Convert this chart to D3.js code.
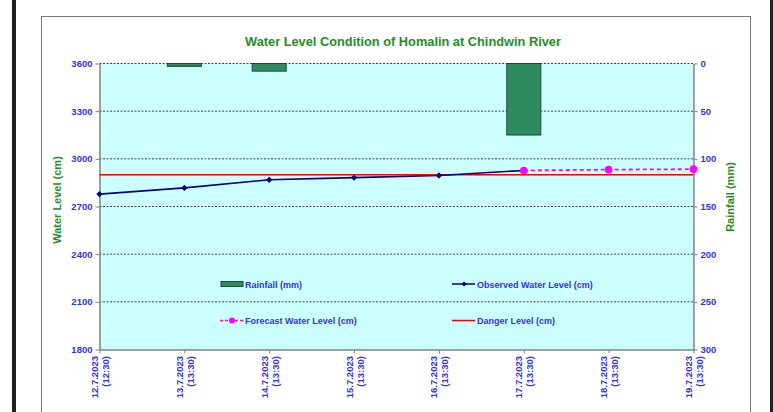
<!DOCTYPE html>
<html>
<head>
<meta charset="utf-8">
<script src="https://cdn.jsdelivr.net/npm/d3@7"></script>
<style>
  body { margin: 0; background: #fff; }
  text { font-family: "Liberation Sans", Arial, sans-serif; }
</style>
</head>
<body>
<svg id="chart1" width="773" height="412"></svg>
<script>
// dates shown on the x axis (two lines each)
const dates = ['12.7.2023', '13.7.2023', '14.7.2023', '15.7.2023', '16.7.2023', '17.7.2023', '18.7.2023', '19.7.2023']
const times = ['(12:30)', '(13:30)', '(13:30)', '(13:30)', '(13:30)', '(13:30)', '(13:30)', '(13:30)']

// rainfall in mm, right axis
const rainfall = [0, 3, 8, 0, 0, 75, 0, 0]
// observed water level (cm)
const observed = [2778, 2817, 2868, 2882, 2895, 2927]
// forecast water level (cm), starting from 17.7
const forecastDates = ['17.7.2023', '18.7.2023', '19.7.2023']
const forecast = [2927, 2932, 2935]
const dangerLevel = 2900

const leftTicks = [1800, 2100, 2400, 2700, 3000, 3300, 3600]
const rightTicks = [0, 50, 100, 150, 200, 250, 300]

const blue = '#3333dd', green = '#1f8f1f'

const svg = d3.select('#chart1')

// outer page borders
svg.append('rect').attr('x', 12).attr('y', 0).attr('width', 4).attr('height', 412).attr('fill', '#222')
svg.append('rect').attr('x', 770).attr('y', 0).attr('width', 3).attr('height', 412).attr('fill', '#222')
svg.append('rect').attr('x', 41.5).attr('y', 16.5).attr('width', 709).attr('height', 420)
    .attr('fill', '#fff').attr('stroke', '#777')

const x = d3.scalePoint().domain(dates).range([99.5, 693.5])
const yL = d3.scaleLinear().domain([1800, 3600]).range([349.5, 63.5])
const yR = d3.scaleLinear().domain([0, 300]).range([63.5, 349.5])

// plot area
svg.append('rect').attr('x', 99.5).attr('y', 63.5).attr('width', 594).attr('height', 286).attr('fill', '#ccffff')

// dashed grid
svg.append('g').selectAll('line')
    .data(leftTicks.filter(d => d > 1800))
    .enter()
    .append('line')
        .attr('x1', 99.5).attr('x2', 693.5)
        .attr('y1', d => yL(d)).attr('y2', d => yL(d))
        .attr('stroke', '#444').style('stroke-dasharray', ('2, 1.5')).attr('stroke-width', 1)

// title
svg.append('text').attr('x', 403).attr('y', 45.5).attr('text-anchor', 'middle')
    .style('font', 'bold 12.8px "Liberation Sans"').attr('fill', green)
    .text('Water Level Condition of Homalin at Chindwin River')

// rainfall bars
svg.append('g').selectAll('rect')
    .data(rainfall.map((v, i) => ({ x: dates[i], y: v })).filter(d => d.y > 0))
    .enter()
    .append('rect')
        .attr('x', d => x(d.x) - 17)
        .attr('y', yR(0))
        .attr('width', 34)
        .attr('height', d => yR(d.y) - yR(0))
        .attr('fill', '#2e8b5f').attr('stroke', '#1c4a34').attr('stroke-width', 1)

// axes
const axisStyle = g => {
    g.selectAll('path.domain').attr('stroke', '#808080').attr('stroke-width', 1.5)
    g.selectAll('.tick line').attr('stroke', '#808080')
    g.selectAll('text').style('font', 'bold 9.5px "Liberation Sans"').attr('fill', blue)
}
svg.append('g').attr('transform', 'translate(99.5,0)')
    .call(d3.axisLeft(yL).tickValues(leftTicks).tickSize(4).tickSizeOuter(0).tickFormat(d3.format('d')))
    .call(axisStyle)
svg.append('g').attr('transform', 'translate(693.5,0)')
    .call(d3.axisRight(yR).tickValues(rightTicks).tickSize(4).tickSizeOuter(0).tickFormat(d3.format('d')))
    .call(axisStyle)
svg.append('g').attr('transform', 'translate(0,349.5)')
    .call(d3.axisBottom(x).tickSize(4).tickSizeOuter(0).tickFormat(''))
    .call(axisStyle)

// rotated two-line date labels
const xl = svg.append('g').selectAll('text')
    .data(dates)
    .enter()
    .append('text')
        .attr('transform', d => `translate(${x(d)},356)rotate(-90)`)
        .attr('text-anchor', 'end')
        .style('font', 'bold 9.5px "Liberation Sans"').attr('fill', blue)
xl.append('tspan').attr('x', 0).attr('y', -1.5).text(d => d)
xl.append('tspan').attr('x', 0).attr('y', 9.5).text((d, i) => times[i])

// axis titles
svg.append('text').attr('transform', 'translate(61,200)rotate(-90)').attr('text-anchor', 'middle')
    .style('font', 'bold 11px "Liberation Sans"').attr('fill', green).text('Water Level (cm)')
svg.append('text').attr('transform', 'translate(734,197)rotate(-90)').attr('text-anchor', 'middle')
    .style('font', 'bold 11px "Liberation Sans"').attr('fill', green).text('Rainfall (mm)')

// danger level
svg.append('line')
    .attr('x1', x(dates[0])).attr('x2', x(dates[dates.length - 1]))
    .attr('y1', yL(dangerLevel)).attr('y2', yL(dangerLevel))
    .attr('stroke', '#ff0000').attr('stroke-width', 1.5)

// forecast line
const fData = forecast.map((v, i) => ({ x: forecastDates[i], y: v }))
svg.append('path').datum(fData)
    .attr('d', d3.line().x(d => x(d.x)).y(d => yL(d.y)))
    .attr('fill', 'none').attr('stroke', '#ff00ff').attr('stroke-width', 1.8)
    .style('stroke-dasharray', ('4, 3'))

// observed line
const oData = observed.map((v, i) => ({ x: dates[i], y: v }))
svg.append('path').datum(oData)
    .attr('d', d3.line().x(d => x(d.x)).y(d => yL(d.y)))
    .attr('fill', 'none').attr('stroke', '#000080').attr('stroke-width', 1.6)
svg.append('g').selectAll('path')
    .data(oData)
    .enter()
    .append('path')
        .attr('transform', d => `translate(${x(d.x)},${yL(d.y)})rotate(45)`)
        .attr('d', d3.symbol().type(d3.symbolSquare).size(20))
        .attr('fill', '#000080')

svg.append('g').selectAll('circle')
    .data(fData)
    .enter()
    .append('circle')
        .attr('cx', d => x(d.x)).attr('cy', d => yL(d.y))
        .attr('r', 3.8).attr('fill', '#ff00ff')

// legend
const lg = svg.append('g').style('font', 'bold 9px "Liberation Sans"').attr('fill', blue)
lg.append('rect').attr('x', 221).attr('y', 281.5).attr('width', 22).attr('height', 5)
    .attr('fill', '#2e8b5f').attr('stroke', '#1c4a34')
lg.append('text').attr('x', 245).attr('y', 287.5).text('Rainfall (mm)')

lg.append('line').attr('x1', 452).attr('x2', 475).attr('y1', 284).attr('y2', 284)
    .attr('stroke', '#000080').attr('stroke-width', 1.5)
lg.append('path').attr('transform', 'translate(464,284)rotate(45)')
    .attr('d', d3.symbol().type(d3.symbolSquare).size(12)).attr('fill', '#000080')
lg.append('text').attr('x', 477).attr('y', 287.5).text('Observed Water Level (cm)')

lg.append('line').attr('x1', 220).attr('x2', 243).attr('y1', 320.5).attr('y2', 320.5)
    .attr('stroke', '#ff00ff').attr('stroke-width', 1.5).style('stroke-dasharray', ('3, 2'))
lg.append('circle').attr('cx', 232).attr('cy', 320.5).attr('r', 3).attr('fill', '#ff00ff')
lg.append('text').attr('x', 245).attr('y', 324).text('Forecast Water Level (cm)')

lg.append('line').attr('x1', 452).attr('x2', 475).attr('y1', 320.5).attr('y2', 320.5)
    .attr('stroke', '#ff0000').attr('stroke-width', 1.5)
lg.append('text').attr('x', 477).attr('y', 324).text('Danger Level (cm)')
</script>
</body>
</html>
